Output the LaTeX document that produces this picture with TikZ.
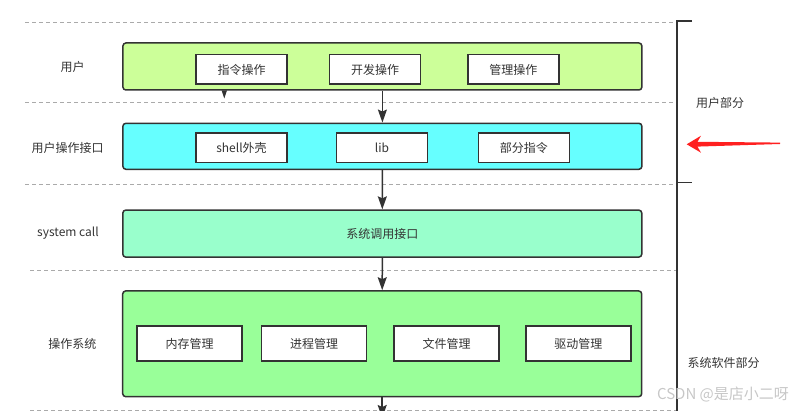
\documentclass[tikz,border=0pt]{standalone}
\usepackage{fontspec}
\setmainfont{Noto Sans CJK SC}
\usetikzlibrary{arrows.meta}
\definecolor{ink}{HTML}{333333}
\definecolor{dashc}{HTML}{AAAAAA}
\definecolor{cUser}{HTML}{CCFF99}
\definecolor{cIface}{HTML}{66FFFF}
\definecolor{cCall}{HTML}{99FFCC}
\definecolor{cOS}{HTML}{99FF99}
\definecolor{cRed}{HTML}{FF2020}
\tikzset{
  layer/.style={draw=ink, line width=1.5pt, rounded corners=3pt, minimum width=519pt},
  item/.style={draw=ink, line width=1.5pt, fill=white, text=ink, font=\fontsize{12}{14}\selectfont, inner sep=0pt},
  sep/.style={draw=dashc, line width=0.9pt, dash pattern=on 4pt off 3pt},
  lbl/.style={text=ink, font=\fontsize{12}{14}\selectfont, inner sep=0pt},
  arr/.style={draw=ink, line width=1.5pt, -{Stealth[length=13pt,width=9pt,inset=2pt]}},
  brk/.style={draw=ink, line width=1.5pt},
}
\begin{document}
\begin{tikzpicture}[x=1pt,y=-1pt]
\useasboundingbox (0,0) rectangle (801,411);
\clip (0,0) rectangle (801,411);
% separators
\draw[sep] (25,22) -- (673,22);
\draw[sep] (25,102) -- (673,102);
\draw[sep] (25,184) -- (673,184);
\draw[sep] (30,270.5) -- (677,270.5);
\draw[sep] (30,410.5) -- (677,410.5);
% bracket
\draw[brk] (692,21) -- (677,21) -- (677,420);
\draw[brk] (677,182.5) -- (692,182.5);
% layers
\node[layer, fill=cUser, minimum height=47pt] (b1) at (382.4,66.5) {};
\node[layer, fill=cIface, minimum height=46pt] (b2) at (382.4,146.3) {};
\node[layer, fill=cCall, minimum height=47pt, text=ink, font=\fontsize{12}{14}\selectfont] (b3) at (382.3,233.6) {系统调用接口};
\node[layer, fill=cOS, minimum height=105.7pt] (b4) at (382.2,343.8) {};
% items
\node[item, minimum width=91pt, minimum height=29.5pt] (i1) at (241.5,69.5) {指令操作};
\node[item, minimum width=91pt, minimum height=29.5pt] (i2) at (375,69.5) {开发操作};
\node[item, minimum width=91pt, minimum height=29.5pt] (i3) at (513.4,69.5) {管理操作};
\node[item, minimum width=91pt, minimum height=29.5pt] (j1) at (241.5,148) {shell外壳};
\node[item, minimum width=90.6pt, minimum height=29.5pt] (j2) at (382,148) {lib};
\node[item, minimum width=91pt, minimum height=29.5pt] (j3) at (523.8,148) {部分指令};
\node[item, minimum width=105pt, minimum height=35pt] (k1) at (189.7,343.5) {内存管理};
\node[item, minimum width=105pt, minimum height=35pt] (k2) at (314.2,343.5) {进程管理};
\node[item, minimum width=105pt, minimum height=35pt] (k3) at (446.7,343.5) {文件管理};
\node[item, minimum width=105pt, minimum height=35pt] (k4) at (578.3,343.5) {驱动管理};
% connectors
\coordinate (bend) at (382.2,418);
\draw[arr] (b1.south) -- (b2.north);
\draw[arr] (b2.south) -- (b3.north);
\draw[arr] (b3.south) -- (b4.north);
\draw[arr] (b4.south) -- (bend);
% stray arrowhead
\fill[ink] (221.6,90.5) -- (227,90.5) -- (224.3,98.5) -- cycle;
% left labels
\node[lbl] (l1) at (72.5,66.7) {用户};
\node[lbl] (l2) at (67.7,148) {用户操作接口};
\node[lbl] (l3) at (68,233.3) {system call};
\node[lbl] (l4) at (72.4,344) {操作系统};
% right labels
\node[lbl] (r1) at (720,103) {用户部分};
\node[lbl] (r2) at (723.7,363.3) {系统软件部分};
% red arrow
\fill[cRed] (686.7,144.3) -- (701,135.7) -- (697.5,141.8) -- (780,142.6) -- (780,144) -- (697.5,146.6) -- (701,152.7) -- cycle;
% watermark
\node[text=black!22, font=\fontsize{15}{17}\selectfont, inner sep=0pt] (wm) at (723,395) {CSDN @是店小二呀};
\end{tikzpicture}
\end{document}
